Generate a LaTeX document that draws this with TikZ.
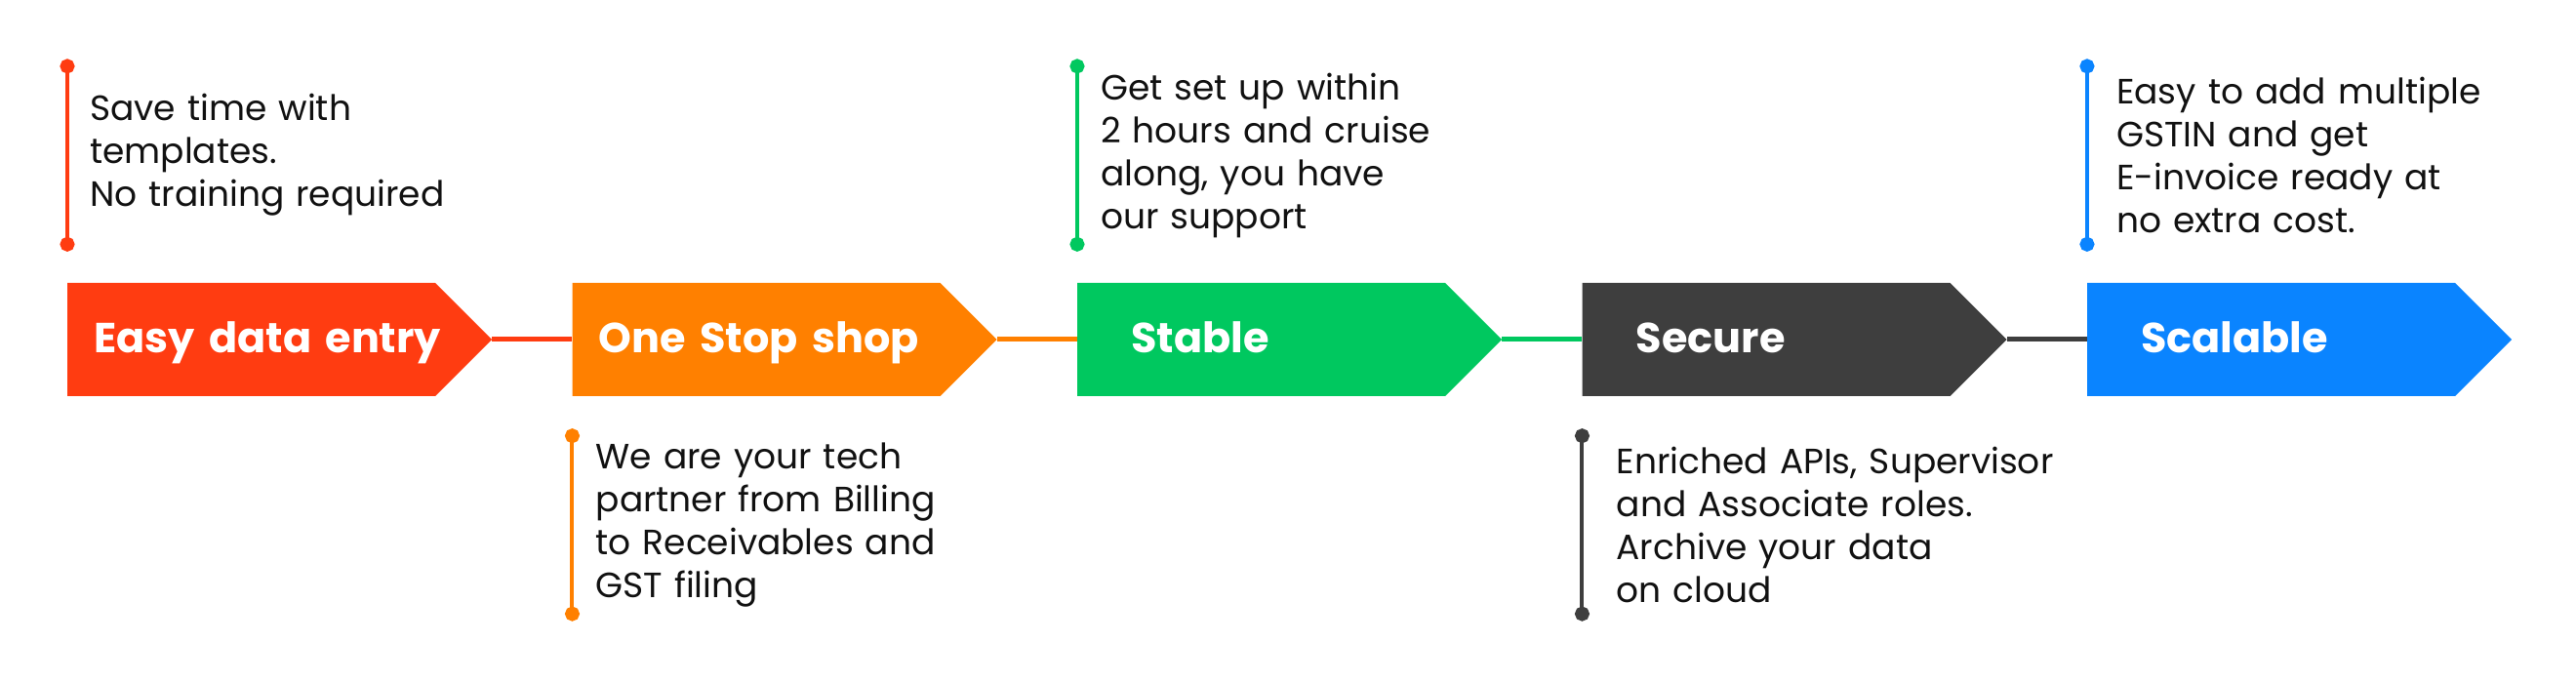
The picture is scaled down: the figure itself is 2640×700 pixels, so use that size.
\documentclass[tikz,border=0pt]{standalone}
\usepackage{fontspec}
\setmainfont{Poppins}
\usepackage{xcolor}
\usepackage{tikz}
\usetikzlibrary{arrows.meta,positioning,shapes.symbols}
\definecolor{ent}{HTML}{FF3C11}
\definecolor{shop}{HTML}{FF8000}
\definecolor{stab}{HTML}{00C85F}
\definecolor{sec}{HTML}{3E3E3E}
\definecolor{scal}{HTML}{0A84FF}
\definecolor{ink}{HTML}{111111}
\tikzset{
  stagebox/.style={signal, signal to=east, signal from=nowhere,
              signal pointer angle=90, draw=none,
              minimum width=435pt, minimum height=116pt,
              inner xsep=27pt, inner ysep=0pt, text width=323pt,
              align=left, text=white, text height=31pt, text depth=3pt,
              font=\fontsize{43}{50}\selectfont\bfseries},
  widepad/.style={inner xsep=55pt, text width=267pt},
  link/.style={line width=5pt},
  note/.style={minimum height=197pt, inner xsep=24pt, inner ysep=0pt,
              text width=460pt, align=left, text=ink,
              font=\fontsize{36}{44}\selectfont},
  tick/.style={line width=4pt, draw=#1,
              {Circle[length=15pt]}-{Circle[length=15pt]}},
}

\begin{document}
\begin{tikzpicture}[x=1pt, y=-1pt]
\useasboundingbox (0,0) rectangle (2640,700);

% ---- stages ----
\node[stagebox, fill=ent, anchor=west] (b1) at (69,348) {\mbox{Easy data entry}};
\node[stagebox, fill=shop, right=82pt of b1] (b2) {\mbox{One Stop shop}};
\node[stagebox, widepad, fill=stab, right=82pt of b2] (b3) {Stable};
\node[stagebox, widepad, fill=sec, right=82pt of b3] (b4) {Secure};
\node[stagebox, widepad, fill=scal, right=82pt of b4] (b5) {Scalable};

% ---- links ----
\draw[link, draw=ent]  (b1.east) -- (b2.west);
\draw[link, draw=shop] (b2.east) -- (b3.west);
\draw[link, draw=stab] (b3.east) -- (b4.west);
\draw[link, draw=sec]  (b4.east) -- (b5.west);

% ---- notes above ----
\node[note, above right=32pt and 0pt of b1.north west, inner xsep=23pt] (d1) {
  Save time with\\
  templates.\\
  No training required
};
\node[note, above right=32pt and 0pt of b3.north west] (d3) {
  Get set up within\\
  2 hours and cruise\\
  along, you have\\
  our support
};
\node[note, above right=32pt and 0pt of b5.north west, inner xsep=30pt] (d5) {
  Easy to add multiple\\
  GSTIN and get\\
  E-invoice ready at\\
  no extra cost.
};

% ---- notes below ----
\node[note, below right=33pt and 0pt of b2.south west] (d2) {
  We are your tech\\
  partner from Billing\\
  to Receivables and\\
  GST filing
};
\node[note, below right=33pt and 0pt of b4.south west, inner xsep=35pt] (d4) {
  Enriched APIs, Supervisor\\
  and Associate roles.\\
  Archive your data\\
  on cloud
};

% ---- ticks ----
\draw[tick=ent]  (d1.north west) -- (d1.south west);
\draw[tick=shop] (d2.north west) -- (d2.south west);
\draw[tick=stab] (d3.north west) -- (d3.south west);
\draw[tick=sec]  (d4.north west) -- (d4.south west);
\draw[tick=scal] (d5.north west) -- (d5.south west);

\end{tikzpicture}
\end{document}
